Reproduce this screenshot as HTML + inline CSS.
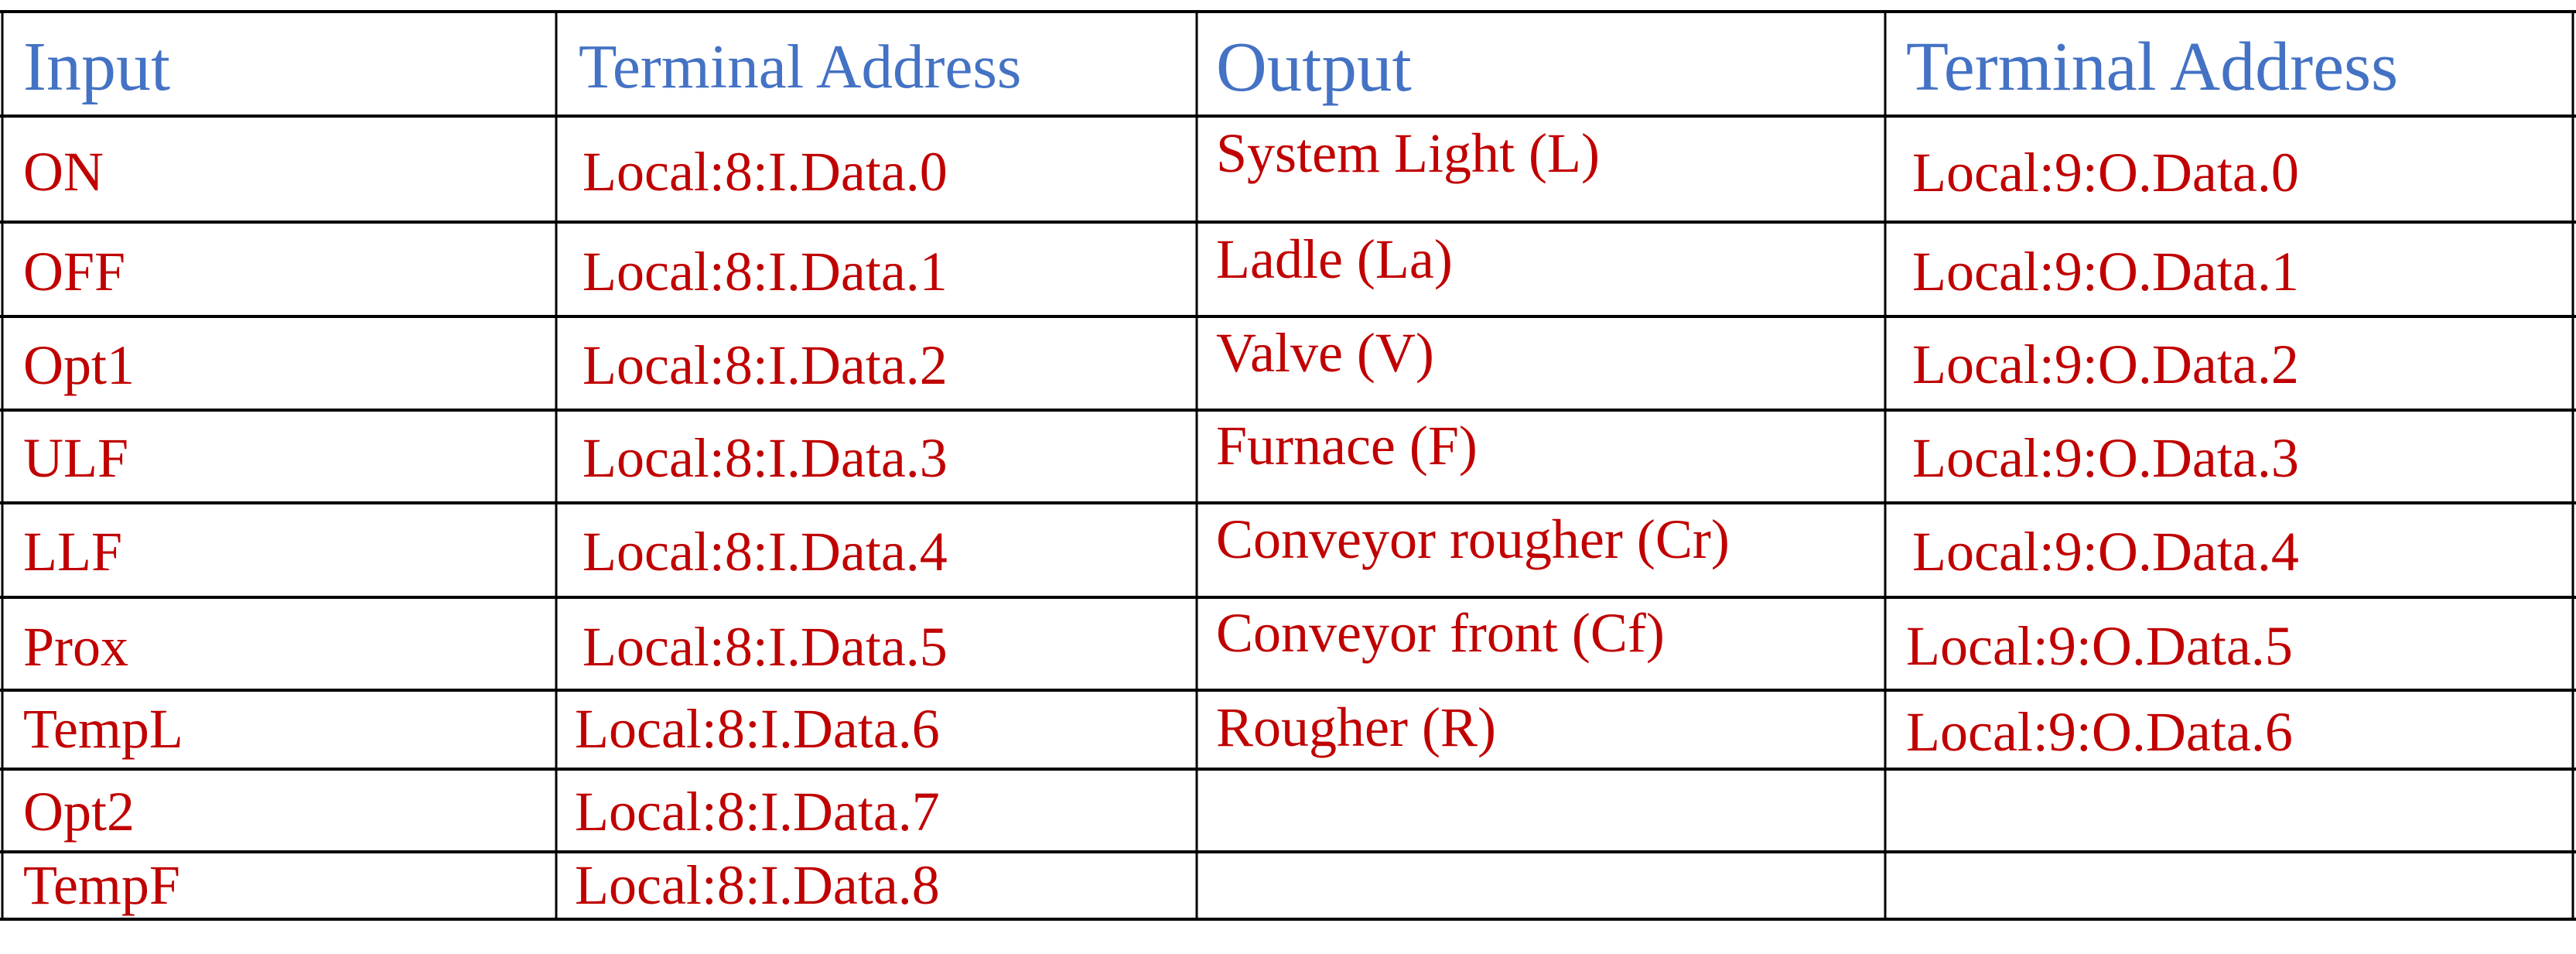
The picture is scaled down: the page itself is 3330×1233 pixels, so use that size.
<!DOCTYPE html>
<html><head><meta charset="utf-8"><style>
html,body{margin:0;padding:0;background:#fff;width:3330px;height:1233px;overflow:hidden}
svg{display:block}
text{font-family:"Liberation Serif",serif}
.h{fill:#4472C4}
.r{fill:#C00000;font-size:72px}
</style></head><body>
<svg width="3330" height="1233" viewBox="0 0 3330 1233">
<g stroke="#000" stroke-width="4">
<line x1="0" y1="15" x2="3330" y2="15"/>
<line x1="0" y1="150" x2="3330" y2="150"/>
<line x1="0" y1="287" x2="3330" y2="287"/>
<line x1="0" y1="409" x2="3330" y2="409"/>
<line x1="0" y1="530" x2="3330" y2="530"/>
<line x1="0" y1="650" x2="3330" y2="650"/>
<line x1="0" y1="772" x2="3330" y2="772"/>
<line x1="0" y1="892" x2="3330" y2="892"/>
<line x1="0" y1="994" x2="3330" y2="994"/>
<line x1="0" y1="1101" x2="3330" y2="1101"/>
<line x1="0" y1="1188" x2="3330" y2="1188"/>
</g>
<g stroke="#000" stroke-width="3">
<line x1="3" y1="15" x2="3" y2="1188"/>
<line x1="719" y1="15" x2="719" y2="1188"/>
<line x1="1547" y1="15" x2="1547" y2="1188"/>
<line x1="2437" y1="15" x2="2437" y2="1188"/>
<line x1="3326" y1="15" x2="3326" y2="1188"/>
</g>
<text class="h" x="30" y="116" font-size="90">Input</text>
<text class="h" x="748" y="113" font-size="81">Terminal Address</text>
<text class="h" x="1572" y="117" font-size="91">Output</text>
<text class="h" x="2464" y="116" font-size="90">Terminal Address</text>

<text class="r" x="30" y="246">ON</text>
<text class="r" x="30" y="375">OFF</text>
<text class="r" x="30" y="496">Opt1</text>
<text class="r" x="30" y="616">ULF</text>
<text class="r" x="30" y="737">LLF</text>
<text class="r" x="30" y="860">Prox</text>
<text class="r" x="30" y="966">TempL</text>
<text class="r" x="30" y="1073">Opt2</text>
<text class="r" x="30" y="1168">TempF</text>

<text class="r" x="753" y="246">Local:8:I.Data.0</text>
<text class="r" x="753" y="375">Local:8:I.Data.1</text>
<text class="r" x="753" y="496">Local:8:I.Data.2</text>
<text class="r" x="753" y="616">Local:8:I.Data.3</text>
<text class="r" x="753" y="737">Local:8:I.Data.4</text>
<text class="r" x="753" y="860">Local:8:I.Data.5</text>
<text class="r" x="743" y="966">Local:8:I.Data.6</text>
<text class="r" x="743" y="1073">Local:8:I.Data.7</text>
<text class="r" x="743" y="1168">Local:8:I.Data.8</text>

<text class="r" x="1572" y="222">System Light (L)</text>
<text class="r" x="1572" y="359">Ladle (La)</text>
<text class="r" x="1572" y="480">Valve (V)</text>
<text class="r" x="1572" y="600">Furnace (F)</text>
<text class="r" x="1572" y="721">Conveyor rougher (Cr)</text>
<text class="r" x="1572" y="842">Conveyor front (Cf)</text>
<text class="r" x="1572" y="964">Rougher (R)</text>

<text class="r" x="2472" y="247">Local:9:O.Data.0</text>
<text class="r" x="2472" y="375">Local:9:O.Data.1</text>
<text class="r" x="2472" y="495">Local:9:O.Data.2</text>
<text class="r" x="2472" y="616">Local:9:O.Data.3</text>
<text class="r" x="2472" y="737">Local:9:O.Data.4</text>
<text class="r" x="2464" y="859">Local:9:O.Data.5</text>
<text class="r" x="2464" y="970">Local:9:O.Data.6</text>
</svg>
</body></html>
